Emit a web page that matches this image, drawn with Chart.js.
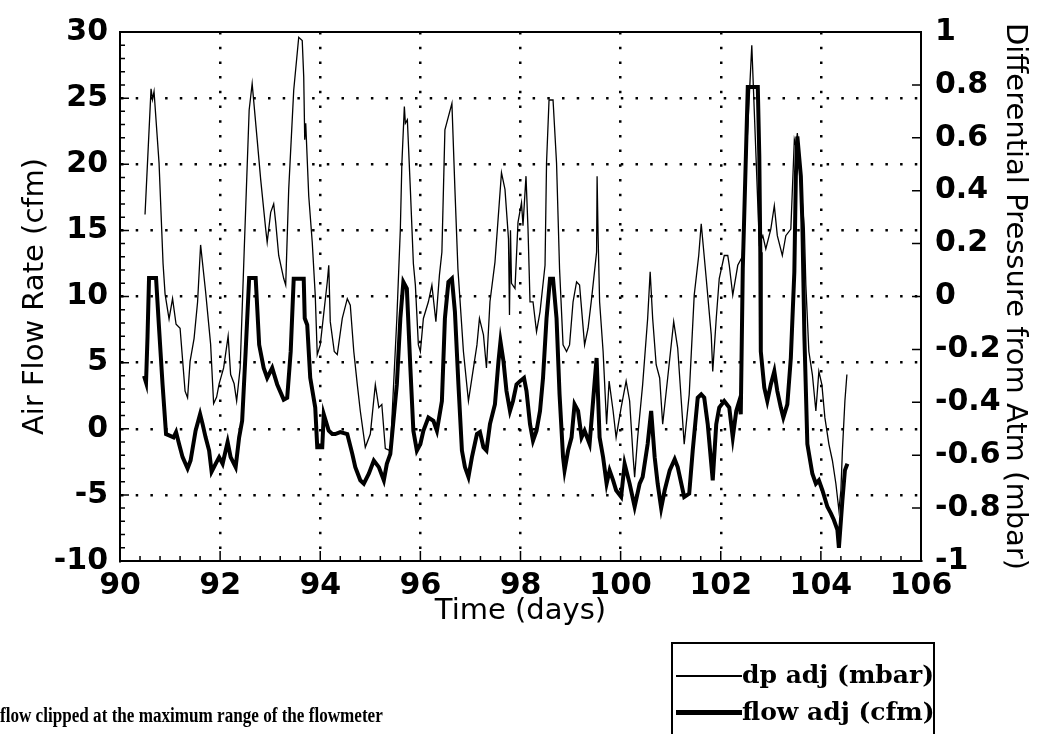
<!DOCTYPE html>
<html>
<head>
<meta charset="utf-8">
<script src="https://cdn.jsdelivr.net/npm/chart.js"></script>
<style>
  html, body { margin: 0; padding: 0; background: #fff; }
  #wrap { position: relative; width: 1038px; height: 734px; overflow: hidden; }
  #legend {
    position: absolute; left: 671px; top: 642px; width: 264px; height: 100px;
    border: 2px solid #000; box-sizing: border-box;
    font-family: "DejaVu Serif", serif; font-weight: bold; font-size: 25px; color: #000;
  }
  .row { position: absolute; left: 0; height: 30px; line-height: 30px; white-space: nowrap; }
  .row span.sample { position: absolute; left: 3px; width: 66px; background: #000; }
  .row span.txt { position: absolute; left: 69px; }
  #note {
    position: absolute; left: 0px; top: 704px; white-space: nowrap;
    font-family: "Liberation Serif", serif; font-weight: bold; font-size: 20px; color: #000;
    transform-origin: 0 0; transform: scaleX(0.855);
  }
</style>
</head>
<body>
<div id="wrap">
  <canvas id="chart" width="1038" height="734"></canvas>
  <div id="legend">
    <div class="row" style="top:16px"><span class="sample" style="top:15px;height:1.5px"></span><span class="txt">dp adj (mbar)</span></div>
    <div class="row" style="top:53px"><span class="sample" style="top:13px;height:5px"></span><span class="txt">flow adj (cfm)</span></div>
  </div>
  <div id="note">flow clipped at the maximum range of the flowmeter</div>
</div>
<script>
// time axis in days, dp in mbar (right axis), flow in cfm (left axis)
const dpDays = [90.50, 90.62, 90.65, 90.68, 90.78, 90.86, 90.90, 90.98, 91.05, 91.12, 91.20, 91.30, 91.35, 91.40, 91.48, 91.55, 91.61, 91.71, 91.81, 91.87, 91.93, 91.98, 92.07, 92.16, 92.21, 92.28, 92.33, 92.40, 92.48, 92.58, 92.64, 92.74, 92.81, 92.91, 92.94, 93.01, 93.07, 93.11, 93.17, 93.27, 93.31, 93.37, 93.47, 93.57, 93.64, 93.67, 93.69, 93.71, 93.77, 93.84, 93.90, 93.94, 94.00, 94.14, 94.17, 94.20, 94.28, 94.34, 94.44, 94.54, 94.60, 94.67, 94.74, 94.80, 94.90, 95.00, 95.10, 95.17, 95.23, 95.30, 95.40, 95.53, 95.60, 95.63, 95.68, 95.70, 95.74, 95.80, 95.86, 95.90, 95.96, 96.00, 96.06, 96.16, 96.23, 96.31, 96.38, 96.43, 96.49, 96.63, 96.69, 96.75, 96.86, 96.96, 97.03, 97.13, 97.18, 97.26, 97.32, 97.39, 97.49, 97.62, 97.69, 97.76, 97.78, 97.80, 97.82, 97.89, 97.95, 98.02, 98.05, 98.11, 98.15, 98.19, 98.25, 98.32, 98.39, 98.49, 98.52, 98.57, 98.65, 98.72, 98.78, 98.85, 98.92, 98.98, 99.05, 99.12, 99.18, 99.28, 99.35, 99.42, 99.52, 99.53, 99.55, 99.58, 99.65, 99.72, 99.77, 99.85, 99.91, 100.01, 100.11, 100.18, 100.25, 100.28, 100.34, 100.44, 100.54, 100.59, 100.64, 100.71, 100.78, 100.84, 100.94, 101.06, 101.14, 101.27, 101.37, 101.47, 101.56, 101.61, 101.71, 101.81, 101.84, 101.91, 101.97, 102.07, 102.14, 102.17, 102.24, 102.34, 102.43, 102.53, 102.62, 102.69, 102.77, 102.84, 102.90, 103.00, 103.07, 103.13, 103.23, 103.30, 103.40, 103.47, 103.50, 103.53, 103.60, 103.67, 103.70, 103.76, 103.83, 103.90, 103.96, 104.02, 104.08, 104.16, 104.23, 104.30, 104.36, 104.40, 104.43, 104.48, 104.52];
const dpValues = [0.31, 0.785, 0.745, 0.775, 0.505, 0.125, 0.01, -0.085, -0.008, -0.105, -0.12, -0.358, -0.383, -0.245, -0.158, -0.02, 0.195, 0.018, -0.18, -0.405, -0.38, -0.33, -0.27, -0.15, -0.295, -0.33, -0.395, -0.27, 0.168, 0.705, 0.805, 0.593, 0.443, 0.255, 0.205, 0.318, 0.35, 0.28, 0.155, 0.068, 0.043, 0.405, 0.78, 0.98, 0.968, 0.83, 0.593, 0.655, 0.38, 0.205, 0.005, -0.22, -0.183, 0.055, 0.118, -0.095, -0.208, -0.22, -0.083, -0.008, -0.033, -0.208, -0.333, -0.433, -0.57, -0.52, -0.333, -0.42, -0.408, -0.575, -0.583, -0.083, 0.255, 0.5, 0.718, 0.655, 0.668, 0.405, 0.125, 0.043, -0.183, -0.208, -0.083, -0.02, 0.043, -0.095, 0.08, 0.168, 0.63, 0.73, 0.405, 0.105, -0.208, -0.395, -0.308, -0.183, -0.083, -0.145, -0.27, -0.02, 0.13, 0.468, 0.405, 0.218, -0.07, 0.25, 0.05, 0.03, 0.28, 0.355, 0.268, 0.455, 0.255, -0.02, -0.02, -0.133, -0.058, 0.118, 0.505, 0.743, 0.743, 0.505, 0.105, -0.183, -0.208, -0.183, -0.02, 0.055, 0.043, -0.183, -0.12, -0.008, 0.168, 0.455, 0.23, -0.02, -0.208, -0.483, -0.32, -0.433, -0.533, -0.42, -0.32, -0.395, -0.608, -0.683, -0.533, -0.333, -0.083, 0.093, -0.083, -0.258, -0.308, -0.483, -0.308, -0.095, -0.195, -0.558, -0.37, 0.005, 0.155, 0.275, 0.068, -0.145, -0.283, -0.083, 0.068, 0.155, 0.155, 0.118, 0.005, 0.118, 0.15, 0.6, 0.95, 0.6, 0.2, 0.23, 0.18, 0.255, 0.343, 0.23, 0.155, 0.23, 0.255, 0.593, 0.568, 0.618, 0.43, 0.255, 0.043, -0.208, -0.295, -0.433, -0.283, -0.333, -0.458, -0.558, -0.62, -0.708, -0.808, -0.733, -0.583, -0.395, -0.295];

const flowDays = [90.48, 90.52, 90.55, 90.58, 90.72, 90.78, 90.85, 90.92, 90.98, 91.07, 91.12, 91.18, 91.25, 91.35, 91.41, 91.51, 91.60, 91.65, 91.71, 91.78, 91.83, 91.91, 91.98, 92.05, 92.15, 92.21, 92.31, 92.38, 92.44, 92.51, 92.58, 92.71, 92.78, 92.87, 92.94, 93.04, 93.14, 93.27, 93.34, 93.41, 93.47, 93.67, 93.69, 93.74, 93.80, 93.90, 93.94, 94.04, 94.07, 94.17, 94.24, 94.30, 94.40, 94.54, 94.64, 94.70, 94.80, 94.87, 94.97, 95.07, 95.17, 95.27, 95.33, 95.40, 95.53, 95.60, 95.66, 95.73, 95.80, 95.86, 95.93, 96.00, 96.06, 96.16, 96.26, 96.33, 96.43, 96.49, 96.56, 96.63, 96.69, 96.76, 96.83, 96.89, 96.96, 97.03, 97.13, 97.19, 97.26, 97.32, 97.39, 97.49, 97.56, 97.60, 97.66, 97.72, 97.79, 97.85, 97.92, 97.99, 98.07, 98.12, 98.19, 98.25, 98.32, 98.39, 98.45, 98.52, 98.59, 98.65, 98.72, 98.78, 98.85, 98.88, 98.95, 99.02, 99.08, 99.15, 99.22, 99.28, 99.38, 99.45, 99.52, 99.58, 99.65, 99.72, 99.78, 99.85, 99.91, 100.01, 100.08, 100.18, 100.28, 100.38, 100.44, 100.54, 100.61, 100.68, 100.74, 100.81, 100.88, 100.98, 101.08, 101.14, 101.27, 101.37, 101.44, 101.54, 101.61, 101.67, 101.74, 101.84, 101.91, 101.97, 102.07, 102.17, 102.24, 102.31, 102.37, 102.40, 102.44, 102.54, 102.74, 102.77, 102.79, 102.80, 102.87, 102.93, 103.00, 103.07, 103.13, 103.20, 103.25, 103.33, 103.40, 103.47, 103.50, 103.53, 103.60, 103.63, 103.67, 103.73, 103.83, 103.90, 103.96, 104.03, 104.13, 104.20, 104.26, 104.33, 104.36, 104.43, 104.48, 104.53];
const flowValues = [4.0, 3.5, 7.0, 11.4, 11.4, 7.6, 3.35, -0.4, -0.5, -0.65, -0.25, -1.15, -2.15, -3.0, -2.4, -0.15, 1.1, 0.35, -0.65, -1.65, -3.25, -2.65, -2.15, -2.65, -1.0, -2.15, -2.9, -0.65, 0.6, 5.85, 11.4, 11.4, 6.35, 4.6, 3.85, 4.6, 3.35, 2.2, 2.35, 5.85, 11.35, 11.35, 8.35, 7.85, 3.85, 1.6, -1.4, -1.4, 1.1, -0.15, -0.4, -0.4, -0.25, -0.4, -1.9, -2.9, -3.9, -4.15, -3.4, -2.4, -2.9, -3.9, -2.65, -1.9, 3.35, 8.35, 11.1, 10.6, 4.6, -0.15, -1.65, -1.15, -0.15, 0.85, 0.6, -0.15, 2.1, 8.35, 11.1, 11.35, 8.85, 3.35, -1.65, -2.9, -3.65, -2.15, -0.4, -0.25, -1.4, -1.65, 0.35, 1.85, 5.1, 6.6, 5.1, 2.85, 1.35, 2.1, 3.35, 3.6, 3.85, 2.85, 0.35, -0.9, -0.15, 1.35, 3.85, 8.35, 11.35, 11.35, 8.35, 2.6, -2.15, -3.15, -1.65, -0.65, 1.85, 1.35, -0.65, -0.15, -1.15, 2.1, 5.35, -0.65, -2.15, -4.15, -3.15, -3.9, -4.65, -5.15, -2.65, -4.15, -5.9, -4.15, -3.65, -1.15, 1.35, -2.15, -4.15, -6.0, -4.65, -3.15, -2.3, -2.9, -5.15, -4.9, -1.65, 2.35, 2.6, 2.35, 0.35, -3.9, 0.35, 1.6, 2.1, 1.6, -0.65, 1.35, 2.1, 1.1, 12.1, 25.85, 25.85, 20.6, 13.35, 5.85, 3.1, 2.1, 3.35, 4.35, 2.85, 1.6, 0.85, 1.85, 5.35, 11.85, 19.1, 22.1, 19.1, 15.6, 7.1, -1.15, -3.4, -4.15, -3.9, -4.65, -5.9, -6.4, -6.9, -7.65, -9.0, -5.4, -3.15, -2.65];

const xRange = [90, 106];
const flowRange = [-10, 30];
const dpRange = [-1, 1];

const tickFont = { family: '"DejaVu Sans", sans-serif', size: 30, weight: 'bold' };
const titleFont = { family: '"DejaVu Sans", sans-serif', size: 29 };

// plot frame and the small inward tick marks
const frameTicks = {
  id: 'frameTicks',
  afterDraw(chart) {
    const { ctx, chartArea: a, scales } = chart;
    ctx.save();
    ctx.strokeStyle = '#000';
    ctx.lineWidth = 2;
    ctx.strokeRect(a.left, a.top, a.right - a.left, a.bottom - a.top);
    ctx.lineWidth = 1.5;
    ctx.beginPath();
    for (let v = flowRange[0]; v <= flowRange[1]; v++) {
      const y = scales.y.getPixelForValue(v);
      const len = v % 5 === 0 ? 9 : 5;
      ctx.moveTo(a.left, y);
      ctx.lineTo(a.left + len, y);
    }
    for (let i = 0; i <= 40; i++) {
      const x = scales.x.getPixelForValue(xRange[0] + i * 0.4);
      const len = i % 5 === 0 ? 10 : 5;
      ctx.moveTo(x, a.bottom);
      ctx.lineTo(x, a.bottom - len);
    }
    for (let i = 0; i <= 10; i++) {
      const y = scales.y2.getPixelForValue(dpRange[0] + i * 0.2);
      ctx.moveTo(a.right, y);
      ctx.lineTo(a.right - 9, y);
    }
    ctx.stroke();
    ctx.restore();
  }
};

new Chart(document.getElementById('chart'), {
  type: 'line',
  data: {
    datasets: [
      {
        label: 'dp adj (mbar)',
        data: dpDays.map((d, i) => ({ x: d, y: dpValues[i] })),
        yAxisID: 'y2',
        borderColor: '#000',
        borderWidth: 1.3,
        pointRadius: 0,
        tension: 0
      },
      {
        label: 'flow adj (cfm)',
        data: flowDays.map((d, i) => ({ x: d, y: flowValues[i] })),
        yAxisID: 'y',
        borderColor: '#000',
        borderWidth: 4,
        pointRadius: 0,
        tension: 0
      }
    ]
  },
  options: {
    responsive: false,
    animation: false,
    layout: { padding: { top: 28, left: 0, right: 0, bottom: 0 } },
    plugins: { legend: { display: false }, tooltip: { enabled: false } },
    scales: {
      x: {
        type: 'linear',
        min: xRange[0], max: xRange[1],
        ticks: { stepSize: 2, color: '#000', font: tickFont, padding: 7, maxRotation: 0 },
        grid: {
          drawTicks: false,
          lineWidth: 2.5,
          color: (c) => (c.tick && (c.tick.value === xRange[0] || c.tick.value === xRange[1])) ? 'rgba(0,0,0,0)' : '#000'
        },
        border: { display: true, color: '#000', width: 2, dash: [2.5, 12.2] },
        title: { display: true, text: 'Time (days)', color: '#000', font: titleFont, padding: { top: 0, bottom: 105 } },
        afterFit: (s) => { s.height = 173; }
      },
      y: {
        position: 'left',
        min: flowRange[0], max: flowRange[1],
        ticks: { stepSize: 5, color: '#000', font: tickFont, padding: 12 },
        grid: {
          drawTicks: false,
          lineWidth: 2.5,
          color: (c) => (c.tick && (c.tick.value === flowRange[0] || c.tick.value === flowRange[1])) ? 'rgba(0,0,0,0)' : '#000'
        },
        border: { display: true, color: '#000', width: 2, dash: [2.5, 12.2] },
        title: { display: true, text: 'Air Flow Rate (cfm)', color: '#000', font: titleFont, padding: { top: 18, bottom: 0 } },
        afterFit: (s) => { s.width = 120; }
      },
      y2: {
        position: 'right',
        min: dpRange[0], max: dpRange[1],
        ticks: {
          stepSize: 0.2, color: '#000', font: tickFont, padding: 14,
          callback: (v) => String(Number(v.toFixed(1)))
        },
        grid: { drawOnChartArea: false, drawTicks: false },
        border: { display: true, color: '#000', width: 2 },
        title: { display: true, text: 'Differential Pressure from Atm (mbar)', color: '#000', font: titleFont, padding: { top: 6, bottom: 0 } },
        afterFit: (s) => { s.width = 117; }
      }
    }
  },
  plugins: [frameTicks]
});
</script>
</body>
</html>
